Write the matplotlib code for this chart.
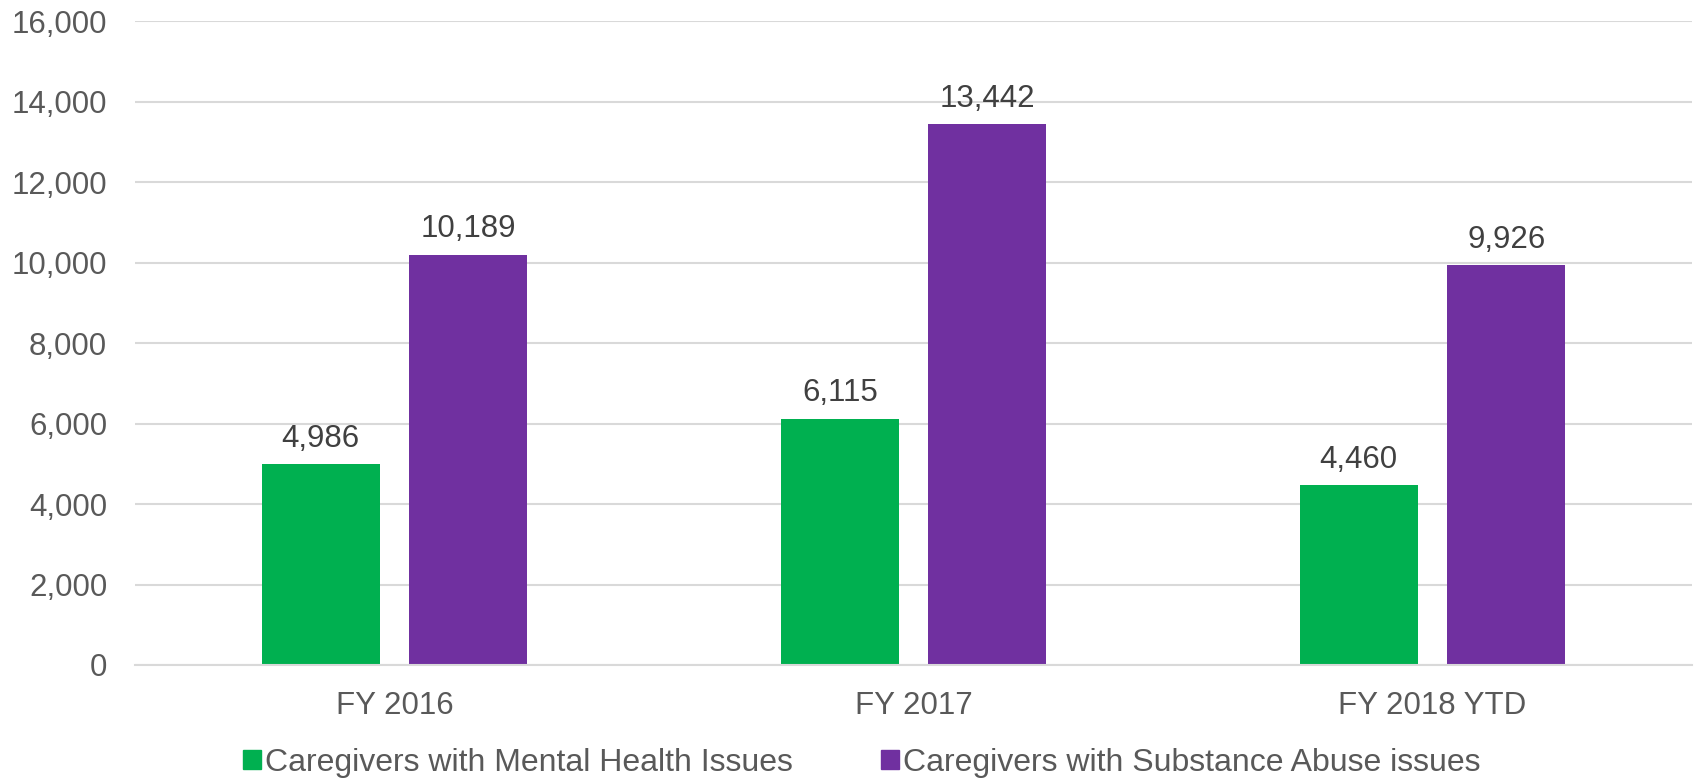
import matplotlib
matplotlib.use("Agg")
import matplotlib.pyplot as plt
import numpy as np
from matplotlib.patches import Patch

# data
categories = ["FY 2016", "FY 2017", "FY 2018 YTD"]
mental_health = [4986, 6115, 4460]
substance_abuse = [10189, 13442, 9926]
series_names = ["Caregivers with Mental Health Issues",
                "Caregivers with Substance Abuse issues"]

GREEN = "#00B050"
PURPLE = "#7030A0"
GRID = "#D9D9D9"
TICK_COLOR = "#595959"
LABEL_COLOR = "#404040"
FS = 22.5

plt.rcParams["font.family"] = ["Liberation Sans", "DejaVu Sans"]

fig = plt.figure(figsize=(16.96, 7.82), dpi=100)
ax = fig.add_axes([135 / 1696, 1 - 665 / 782, (1692 - 135) / 1696, (665 - 21) / 782])

x = np.arange(len(categories))
width = 0.227
offset = 0.142
b1 = ax.bar(x - offset, mental_health, width, color=GREEN, zorder=3)
b2 = ax.bar(x + offset, substance_abuse, width, color=PURPLE, zorder=3)

for bars, vals in ((b1, mental_health), (b2, substance_abuse)):
    ax.bar_label(bars, labels=[f"{v:,}" for v in vals], padding=7.5,
                 fontsize=FS, color=LABEL_COLOR)

ax.set_xlim(-0.5, len(categories) - 0.5)
ax.set_ylim(0, 16000)
ax.set_yticks(np.arange(0, 16001, 2000))
ax.yaxis.set_major_formatter(plt.FuncFormatter(lambda v, _: f"{v:,.0f}"))
ax.set_xticks(x)
ax.set_xticklabels(categories)

ax.grid(axis="y", color=GRID, linewidth=1.5, zorder=0)
ax.tick_params(axis="y", length=0, pad=20, labelsize=FS, labelcolor=TICK_COLOR)
ax.tick_params(axis="x", length=0, pad=18.5, labelsize=FS, labelcolor=TICK_COLOR)
for side in ("top", "right", "left"):
    ax.spines[side].set_visible(False)
ax.spines["bottom"].set_color(GRID)
ax.spines["bottom"].set_linewidth(1.5)
ax.spines["bottom"].set_zorder(4)

# legend below the plot, square swatches
handles = [Patch(color=GREEN), Patch(color=PURPLE)]
fig.legend(handles, series_names, loc="center left",
           bbox_to_anchor=(243 / 1696, 1 - 763 / 782), ncol=2, frameon=False,
           fontsize=23, labelcolor=TICK_COLOR, handlelength=0.55,
           handleheight=0.55, handletextpad=0.15, columnspacing=2.75,
           borderpad=0, borderaxespad=0)

fig.savefig("out.png", dpi=100, facecolor="white")
